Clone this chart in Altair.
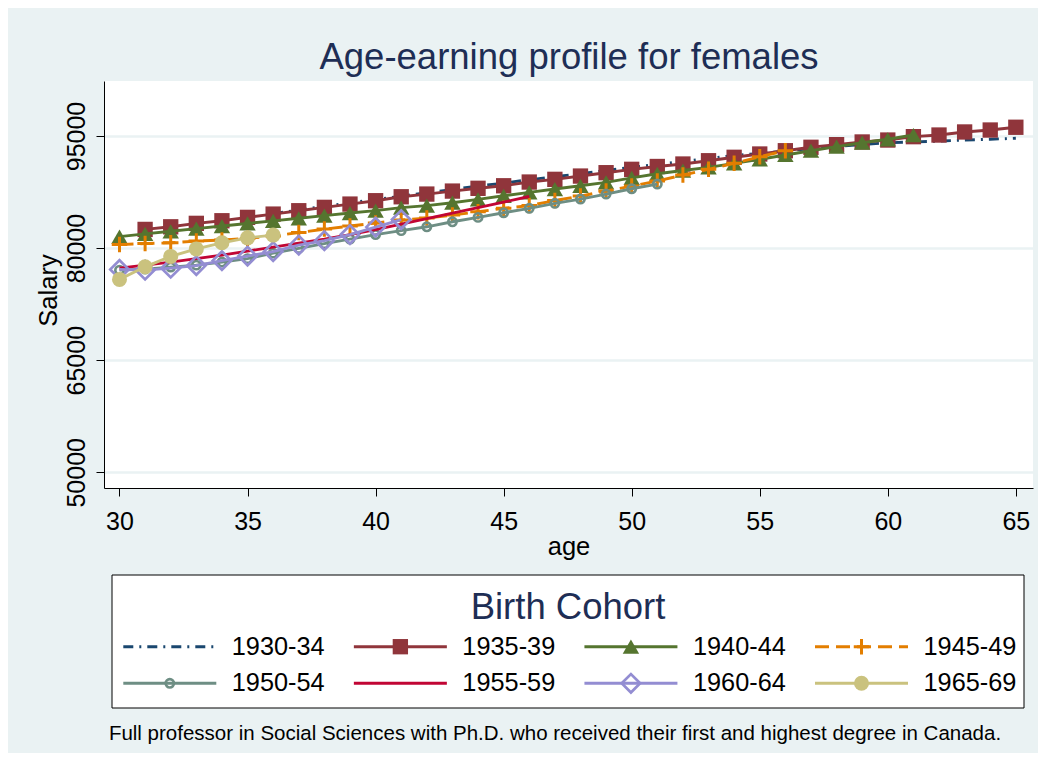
import altair as alt
import pandas as pd

# ---------------- data ----------------
cohorts = ["1930-34", "1935-39", "1940-44", "1945-49",
           "1950-54", "1955-59", "1960-64", "1965-69"]
colors = ["#1a476f", "#90353b", "#55752f", "#e37e00",
          "#6e8e84", "#c10534", "#938dd2", "#cac27e"]

ages_1930_34 = list(range(36, 66))
sal_1930_34 = [84600, 85100, 85600, 86050, 86500, 86950, 87400, 87850, 88300, 88700,
               89150, 89550, 89950, 90400, 90800, 91200, 91600, 92000, 92400, 92650,
               93000, 93300, 93600, 93850, 94100, 94200, 94320, 94450, 94570, 94690]

ages_1935_39 = list(range(31, 66))
sal_1935_39 = [82500, 82850, 83310, 83660, 84110, 84550, 85000, 85450, 85890, 86340,
               86870, 87230, 87630, 88000, 88340, 88840, 89200, 89640, 90090, 90540,
               90920, 91250, 91690, 92150, 92590, 93030, 93490, 93840, 94200, 94460,
               94910, 95130, 95540, 95800, 96170]

ages_1940_44 = list(range(30, 62))
sal_1940_44 = [81540, 81900, 82250, 82600, 82950, 83300, 83640, 83990, 84340, 84690,
               85020, 85420, 85690, 86070, 86520, 87000, 87460, 87900, 88340, 88800,
               89400, 89950, 90380, 90810, 91340, 91880, 92460, 93030, 93570, 94100,
               94560, 95130]

ages_1945_49 = list(range(30, 57))
sal_1945_49 = [80470, 80600, 80710, 80940, 81070, 81300, 81610, 82080, 82540, 82950,
               83350, 83750, 84020, 84420, 84860, 85320, 85690, 86360, 86960, 87630,
               88300, 88970, 89780, 90540, 91340, 92230, 93030]

ages_1950_54 = list(range(30, 52))
sal_1950_54 = [77050, 77190, 77460, 77720, 78130, 78590, 79330, 79960, 80600, 81200,
               81810, 82340, 82850, 83520, 84110, 84730, 85320, 85990, 86560, 87230,
               87940, 88570]

ages_1955_59 = list(range(30, 47))
sal_1955_59 = [77320, 77720, 78130, 78590, 79060, 79600, 80130, 80670, 81200, 81810,
               82480, 83210, 83950, 84690, 85420, 86160, 86900]

ages_1960_64 = list(range(30, 42))
sal_1960_64 = [77150, 77050, 77320, 77660, 78330, 78930, 79530, 80400, 81000, 81810,
               82810, 83820]

ages_1965_69 = list(range(30, 37))
sal_1965_69 = [75810, 77500, 78890, 79890, 80710, 81370, 81740]

series_ages = [ages_1930_34, ages_1935_39, ages_1940_44, ages_1945_49,
               ages_1950_54, ages_1955_59, ages_1960_64, ages_1965_69]
series_sal = [sal_1930_34, sal_1935_39, sal_1940_44, sal_1945_49,
              sal_1950_54, sal_1955_59, sal_1960_64, sal_1965_69]

x_ticks = [30, 35, 40, 45, 50, 55, 60, 65]
y_ticks = [50000, 65000, 80000, 95000]

title_text = "Age-earning profile for females"
legend_title = "Birth Cohort"
note_text = ("Full professor in Social Sciences with Ph.D. who received their "
             "first and highest degree in Canada.")

# ---------------- tables ----------------
rows = []
for c, a_list, s_list in zip(cohorts, series_ages, series_sal):
    for a, s in zip(a_list, s_list):
        rows.append({"cohort": c, "age": a, "salary": s})
df = pd.DataFrame(rows)

leg_df = pd.DataFrame({
    "cohort": cohorts,
    "col": [i % 4 for i in range(len(cohorts))],
    "row": [i // 4 for i in range(len(cohorts))],
})

# ---------------- styles ----------------
FONT = "Liberation Sans"
TITLE_COLOR = "#1e2e55"
BG = "#EAF2F3"
PLUS = "M-1,0L1,0M0,-1L0,1"
LW = 2.9

dashes = [[10, 6, 2, 6], None, None, [14, 7], None, None, None, None]
markers = [
    None,
    dict(shape="square", filled=True, size=235),
    dict(shape="triangle-up", filled=True, size=270),
    dict(shape=PLUS, filled=False, size=240, strokeWidth=3),
    dict(shape="circle", filled=False, size=70, strokeWidth=2.6),
    None,
    dict(shape="diamond", filled=False, size=340, strokeWidth=2.7),
    dict(shape="circle", filled=True, size=225),
]

xscale = alt.Scale(domain=[29.395, 65.67], nice=False, zero=False)
yscale = alt.Scale(domain=[47899, 102360], nice=False, zero=False)

xaxis = alt.Axis(values=x_ticks, title="age", grid=False,
                 labelFont=FONT, labelFontSize=25, labelColor="black",
                 labelBaseline="alphabetic", labelPadding=33,
                 tickSize=8, tickColor="black", tickWidth=1,
                 domainColor="black", domainWidth=1,
                 titleFont=FONT, titleFontSize=25.5, titleFontWeight="normal",
                 titleColor="black", titleBaseline="alphabetic", titleY=66)
yaxis = alt.Axis(values=y_ticks, format="d", title="Salary",
                 grid=True, gridColor=BG, gridWidth=2.5,
                 labelFont=FONT, labelFontSize=25, labelColor="black",
                 labelAngle=270, labelAlign="center", labelBaseline="alphabetic",
                 labelPadding=12,
                 tickSize=8, tickColor="black", tickWidth=1,
                 domainColor="black", domainWidth=1,
                 titleFont=FONT, titleFontSize=25.5, titleFontWeight="normal",
                 titleColor="black", titleAngle=270, titleAlign="center",
                 titleBaseline="alphabetic", titleX=-48, titleY=209)

# ---------------- main plot ----------------
main_layers = []
for i, c in enumerate(cohorts):
    d = df[df["cohort"] == c]
    base = alt.Chart(d).encode(
        x=alt.X("age:Q", scale=xscale, axis=xaxis),
        y=alt.Y("salary:Q", scale=yscale, axis=yaxis),
    )
    lkw = dict(color=colors[i], strokeWidth=LW)
    if dashes[i]:
        lkw["strokeDash"] = dashes[i]
    main_layers.append(base.mark_line(**lkw))
    if markers[i]:
        main_layers.append(base.mark_point(color=colors[i], opacity=1, **markers[i]))
main = alt.layer(*main_layers)

# ---------------- legend, title and note ----------------
lx = alt.X("col:Q", scale=alt.Scale(domain=[0, 3], range=[19.3, 711]), axis=None)
ly = alt.Y("row:Q", scale=alt.Scale(domain=[0, 1], range=[565.7, 602.3]), axis=None)
one = pd.DataFrame({"k": [0]})

leg_layers = [
    alt.Chart(one).mark_text(font=FONT, fontSize=36.5, color=TITLE_COLOR,
                             align="center", baseline="alphabetic").encode(
        x=alt.value(465), y=alt.value(-12), text=alt.value(title_text)),
    alt.Chart(one).mark_rect(fill="white", stroke="black", strokeWidth=1).encode(
        x=alt.value(8), x2=alt.value(920), y=alt.value(494), y2=alt.value(627)),
    alt.Chart(one).mark_text(font=FONT, fontSize=36.5, color=TITLE_COLOR,
                             align="center", baseline="alphabetic").encode(
        x=alt.value(464), y=alt.value(537.5), text=alt.value(legend_title)),
]
for i, c in enumerate(cohorts):
    d = leg_df[leg_df["cohort"] == c]
    rkw = dict(color=colors[i], strokeWidth=LW, x2Offset=93)
    if dashes[i]:
        rkw["strokeDash"] = dashes[i]
    leg_layers.append(alt.Chart(d).mark_rule(**rkw).encode(x=lx, x2="col:Q", y=ly))
    if markers[i]:
        leg_layers.append(alt.Chart(d).mark_point(color=colors[i], opacity=1, xOffset=46.5,
                                                  **markers[i]).encode(x=lx, y=ly))
leg_layers.append(
    alt.Chart(leg_df).mark_text(font=FONT, fontSize=25.3, color="black",
                                align="left", baseline="middle", dx=108.5).encode(
        x=lx, y=ly, text="cohort:N"))
leg_layers.append(
    alt.Chart(one).mark_text(font=FONT, fontSize=20.5, color="black",
                             align="center", baseline="alphabetic").encode(
        x=alt.value(451), y=alt.value(659), text=alt.value(note_text)))
legend = alt.layer(*leg_layers)

chart = (
    alt.layer(main, legend)
    .resolve_scale(x="independent", y="independent")
    .properties(
        width=929, height=407,
        autosize=alt.AutoSizeParams(type="none"),
        padding={"left": 96, "top": 73, "right": 5, "bottom": 265},
        background=BG,
    )
    .configure_view(stroke=None, fill="white")
)

chart.save("out.html", embed_options={"renderer": "svg", "actions": False})
